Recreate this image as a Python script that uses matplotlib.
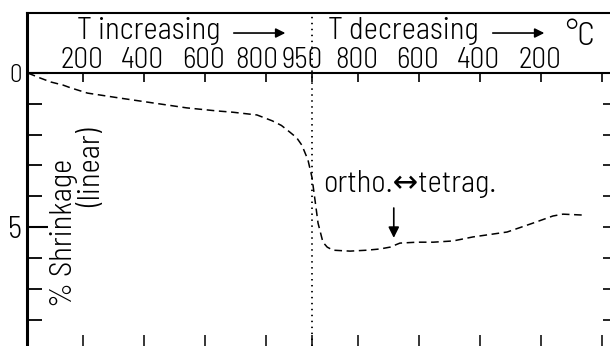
import numpy as np
import matplotlib.pyplot as plt

# dilatometer run: heat to 950 C, then cool back down
T_TOP = 950

heat_T = [20, 60, 95, 135, 160, 215, 320, 430, 540, 640, 690, 770, 820, 850, 878, 900, 917, 937, 950]
heat_shrink = [0.0, 0.16, 0.29, 0.39, 0.48, 0.65, 0.81, 0.97, 1.13, 1.23, 1.27, 1.36, 1.55, 1.70, 1.92, 2.10, 2.34, 2.82, 3.38]

cool_T = [950, 940, 930, 914, 900, 881, 825, 770, 727, 694, 662, 606, 553, 488, 423, 311, 226, 161, 128, 62]
cool_shrink = [3.38, 4.12, 4.87, 5.49, 5.65, 5.75, 5.78, 5.75, 5.71, 5.65, 5.52, 5.49, 5.49, 5.45, 5.32, 5.16, 4.87, 4.64, 4.58, 4.61]

heat_ticks = [200, 400, 600, 800, 950]
cool_ticks = [800, 600, 400, 200, 0]
cool_labels = ['800', '600', '400', '200']

# transition marker (ortho <-> tetrag) on the cooling branch
trans_T = 662
trans_shrink = 5.49

FONT = ['Barlow Semi Condensed', 'DejaVu Sans']
plt.rcParams['font.family'] = FONT
plt.rcParams['font.weight'] = 300


def cool_x(t):
    # cooling temperatures run left-to-right after the turning point
    return 2 * T_TOP - np.asarray(t, dtype=float)


fig = plt.figure(figsize=(6.1, 3.46), dpi=100)
ax = fig.add_axes([27 / 610, 0.0, 583 / 610, 1 - 13 / 346])
ax.set_xlim(17, 1926)
ax.set_ylim(8.86, -1.95)

# shrinkage curve
x_all = np.concatenate([heat_T, cool_x(cool_T)[1:]])
y_all = np.concatenate([heat_shrink, cool_shrink[1:]])
ax.plot(x_all, y_all, color='black', lw=1.1, dashes=(5, 3))

# turning point
ax.axvline(T_TOP, color='black', lw=1.3, ls=(0, (0.8, 2.5)))

# zero line with the temperature ticks hanging from it
ax.axhline(0, color='black', lw=1.5)
tick_x = list(heat_ticks) + list(cool_x(cool_ticks))
ax.vlines(tick_x, 0, 0.28, color='black', lw=1.2)

# spines
for s in ['right', 'bottom']:
    ax.spines[s].set_visible(False)
ax.spines['left'].set_linewidth(2.2)
ax.spines['top'].set_linewidth(1.5)

# bottom ticks, inward
ax.set_xticks(tick_x)
ax.tick_params(axis='x', which='both', direction='in', length=8, width=1.1,
               bottom=True, top=False, labelbottom=False)

# left ticks
ax.set_yticks([0, 5])
ax.set_yticklabels(['0', '5'])
ax.set_yticks([1, 2, 3, 4, 6, 7, 8], minor=True)
ax.tick_params(axis='y', which='major', direction='in', length=15, width=1.5, pad=4)
ax.tick_params(axis='y', which='minor', direction='in', length=11, width=1.3)
labs = ax.get_yticklabels()
labs[0].set_fontsize(18)
labs[1].set_fontsize(22)

# right ticks
ax2 = ax.twinx()
ax2.set_ylim(ax.get_ylim())
ax2.set_yticks([1, 2, 3, 4, 5, 6, 7, 8])
ax2.tick_params(axis='y', direction='in', length=5, width=1.2, labelright=False)
for s in ax2.spines.values():
    s.set_visible(False)

# temperature labels above the zero line
for t in heat_ticks:
    shift = -7 if t >= 800 else -1
    ax.annotate(str(t), (t, -0.16), xytext=(shift, 0), textcoords='offset points',
                ha='center', va='baseline', fontsize=21)
for t, lab in zip(cool_ticks, cool_labels):
    ax.annotate(lab, (cool_x(t), -0.16), xytext=(-1, 0), textcoords='offset points',
                ha='center', va='baseline', fontsize=21)

ax.text(180, -1.1, 'T increasing', ha='left', va='baseline', fontsize=22)
ax.annotate('', xy=(872, -1.3), xytext=(685, -1.3),
            arrowprops=dict(arrowstyle='-|>', lw=1.2, color='black', mutation_scale=14))
ax.text(1003, -1.1, 'T decreasing', ha='left', va='baseline', fontsize=22)
ax.annotate('', xy=(1720, -1.3), xytext=(1533, -1.3),
            arrowprops=dict(arrowstyle='-|>', lw=1.2, color='black', mutation_scale=14))
ax.text(1779, -0.91, '°C', ha='left', va='baseline', fontsize=24)

# phase transition note
ax.text(986, 3.86, 'ortho.↔tetrag.', ha='left', va='baseline', fontsize=22)
ax.annotate('', xy=(cool_x(trans_T) - 20, trans_shrink - 0.05),
            xytext=(cool_x(trans_T) - 20, 4.29),
            arrowprops=dict(arrowstyle='-|>', lw=1.2, color='black', mutation_scale=16))

# y label in two pieces
ax.text(139, 5.19, '% Shrinkage', rotation=90, ha='center', va='center', fontsize=22)
ax.text(229, 3.05, '(linear)', rotation=90, ha='center', va='center', fontsize=22)

fig.savefig('out.png', dpi=100)
